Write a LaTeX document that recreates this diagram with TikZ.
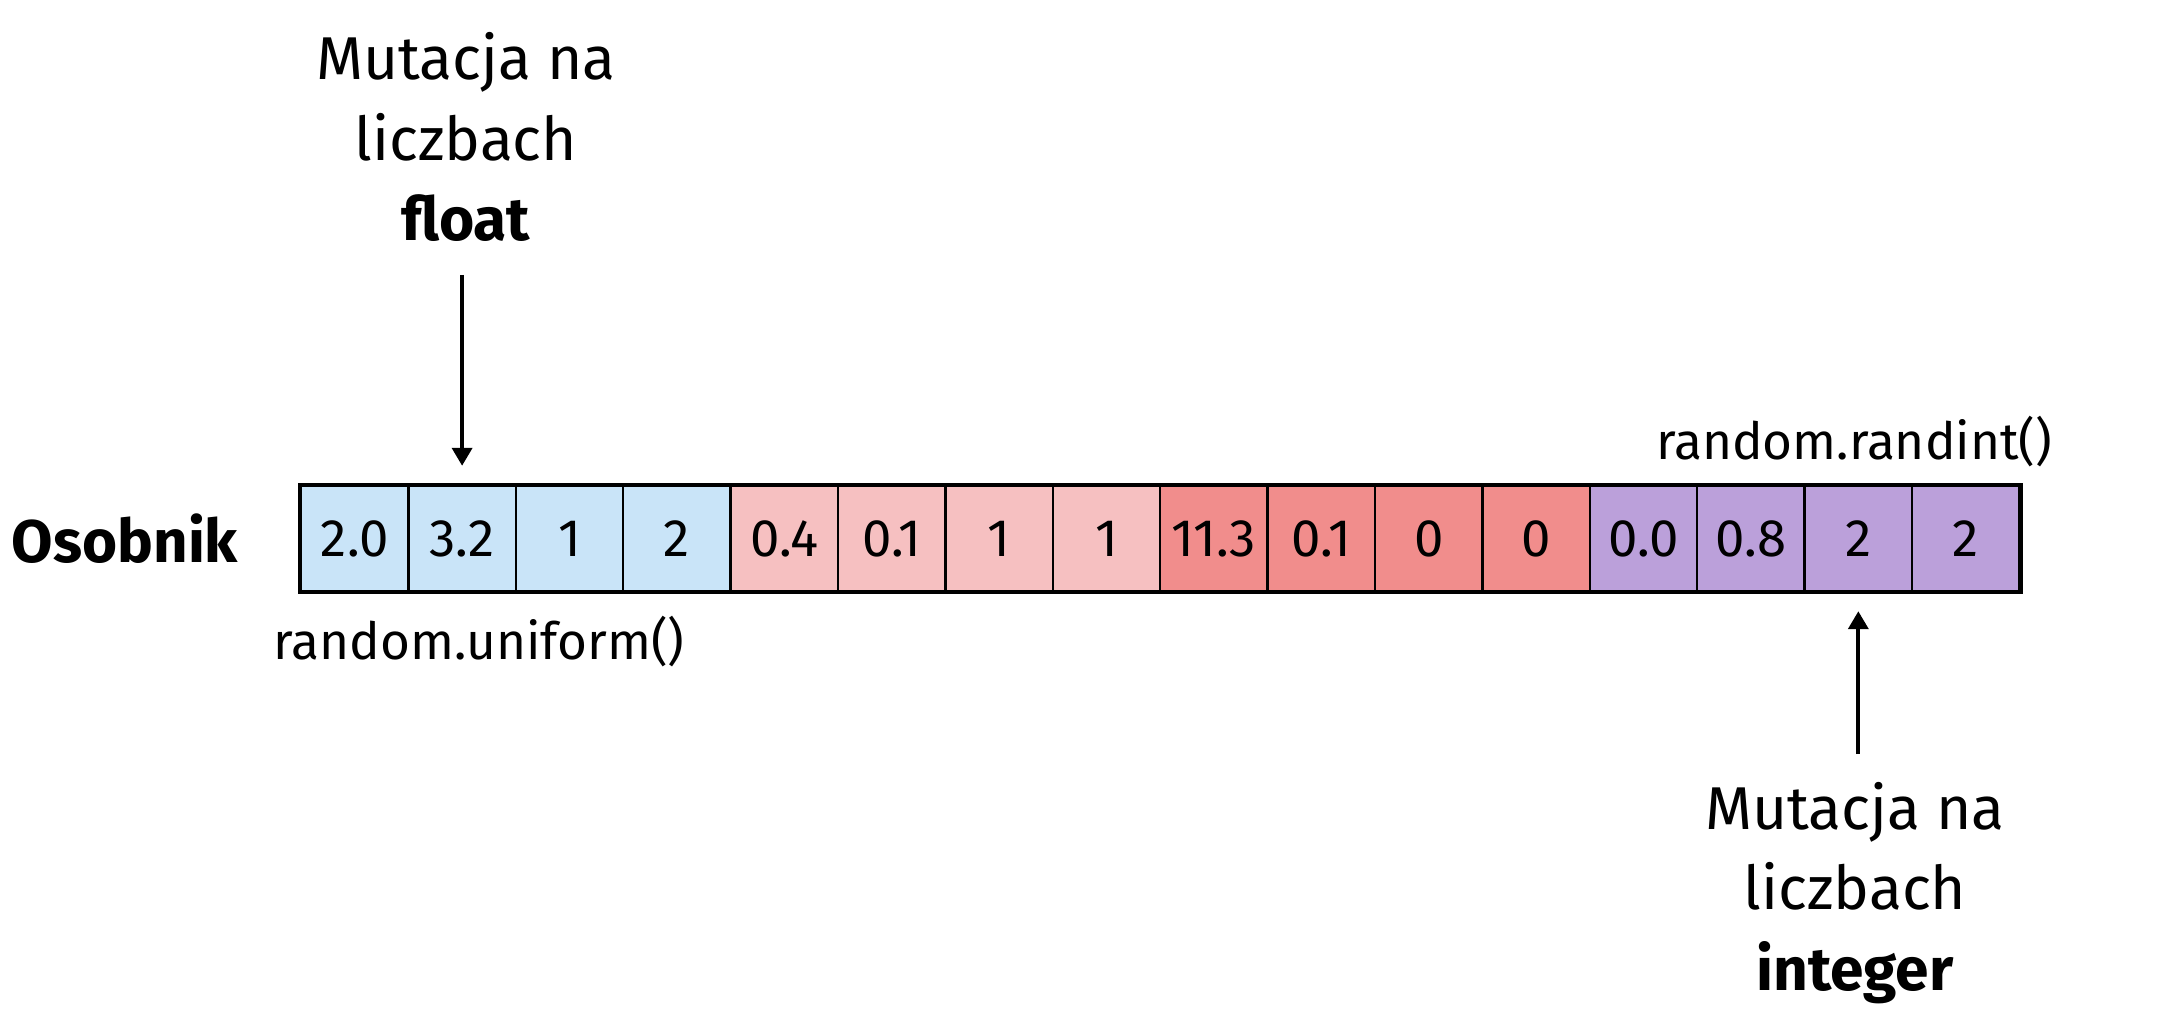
\documentclass[tikz,border=0pt]{standalone}
\usepackage{fontspec}
\setmainfont{Fira Sans}
\usetikzlibrary{arrows.meta,positioning}
\definecolor{genblue}{RGB}{201,228,248}
\definecolor{genpink}{RGB}{246,192,193}
\definecolor{genred}{RGB}{241,141,140}
\definecolor{genpurple}{RGB}{187,160,218}
\tikzset{
  >={Triangle[width=2mm,length=1.8mm]},
  gene/.style={rectangle,draw,line width=0.7pt,minimum width=10.74mm,minimum height=10.5mm,inner sep=0pt,font=\fontsize{15}{18}\selectfont},
  mut/.style={->,line width=1.1pt},
  lbl/.style={align=center,font=\fontsize{17.2}{22.8}\selectfont},
  fn/.style={font=\fontsize{14.6}{17}\selectfont}
}
\begin{document}
\begin{tikzpicture}
  \useasboundingbox (0,0) rectangle (21.66,10.24);
  % chromosome cells
  \foreach \v/\c [count=\i] in {2.0/genblue,3.2/genblue,1/genblue,2/genblue,
      0.4/genpink,0.1/genpink,1/genpink,1/genpink,
      11.3/genred,0.1/genred,0/genred,0/genred,
      0.0/genpurple,0.8/genpurple,2/genpurple,2/genpurple}
    \node[gene,fill=\c] (c\i) at ({3.01+0.537+(\i-1)*1.074},4.855) {\v};
  \draw[line width=1.2pt] (c1.north west) rectangle (c16.south east);

  \node[font=\bfseries\fontsize{17.1}{21}\selectfont] (osobnik) at (1.25,4.855) {Osobnik};

  % function labels
  \node[fn] (uniform) at (4.79,3.82) {random.uniform()};
  \node[fn] (randint) at (18.54,5.82) {random.randint()};

  % mutation labels
  \node[lbl] (mfloat) at (4.66,8.87) {Mutacja na\\liczbach\\\textbf{float}};
  \node[lbl] (mint) at (18.55,1.31) {Mutacja na\\liczbach\\\textbf{integer}};

  \draw[mut] ([yshift=21mm]c2.north) -- ([yshift=1.9mm]c2.north);
  \draw[mut] ([yshift=-16.2mm]c15.south) -- ([yshift=-1.9mm]c15.south);
\end{tikzpicture}
\end{document}
